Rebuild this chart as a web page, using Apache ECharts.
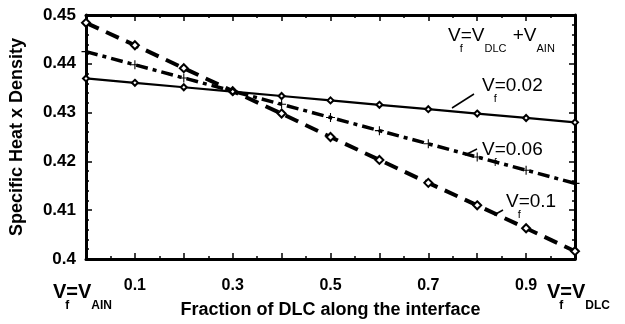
<!DOCTYPE html>
<html>
<head>
<meta charset="utf-8">
<script src="https://cdn.jsdelivr.net/npm/echarts@6/dist/echarts.min.js"></script>
<style>
  html, body { margin: 0; padding: 0; background: #fff; }
  #chart { width: 625px; height: 324px; }
</style>
</head>
<body>
<div id="chart"></div>
<script>
// fraction of DLC along the interface
const fractions = [0, 0.1, 0.2, 0.3, 0.4, 0.5, 0.6, 0.7, 0.8, 0.9, 1.0]
// specific heat x density for each Vf
const vf002 = [0.4370, 0.4361, 0.4352, 0.4343, 0.4334, 0.4325, 0.4316, 0.4307, 0.4298, 0.4289, 0.4280]
const vf006 = [0.4425, 0.4398, 0.4371, 0.4344, 0.4317, 0.4290, 0.4263, 0.4236, 0.4209, 0.4182, 0.4155]
const vf01 = [0.4484, 0.4438, 0.4391, 0.4344, 0.4298, 0.4250, 0.4203, 0.4156, 0.4110, 0.4063, 0.4016]
// tick labels shown on the x axis
const xTickLabels = ['0.1', '0.3', '0.5', '0.7', '0.9']

const FONT = 'Liberation Sans, Arial, sans-serif'

const chart = echarts.init(document.getElementById('chart'))

// measure text so the subscripts line up
const ctx = document.createElement('canvas').getContext('2d')
const measure = (t, font) => {
  ctx.font = font
  return ctx.measureText(t).width
}

// V_f style label: parts = [text, isSub, noAdvance]
const makeLabel = (x, y, parts, size, weight) => {
  const out = []
  let cx = x
  const mainFont = `${weight} ${size}px ${FONT}`
  const subFont = `${weight} ${Math.round(size * 0.6)}px ${FONT}`
  parts.forEach(([t, sub, noAdvance]) => {
    const font = sub ? subFont : mainFont
    out.push({
      type: 'text',
      z: 10,
      style: {
        text: t,
        x: sub && noAdvance ? cx - 1 : cx,
        y: sub ? y + size * 0.7 : y,
        font: font,
        fill: '#000',
        align: 'left',
        verticalAlign: 'middle'
      }
    })
    if (!noAdvance) cx += measure(t, font) + (sub ? 1 : 0)
  })
  return out
}

const leader = (x1, y1, x2, y2) => ({
  type: 'line',
  z: 10,
  shape: { x1, y1, x2, y2 },
  style: { stroke: '#000', lineWidth: 1.5 }
})

const toPairs = arr => fractions.map((f, i) => [f, arr[i]])

const plusPath = 'path://M-0.12,-1H0.12V1H-0.12Z M-1,-0.12H1V0.12H-1Z'

const xAxisBase = {
  type: 'value',
  min: 0,
  max: 1,
  interval: 0.1,
  axisLine: { show: true, onZero: false, lineStyle: { color: '#000', width: 3 } },
  axisTick: { show: true, inside: true, length: 6, lineStyle: { color: '#000', width: 1.5 } },
  minorTick: { show: true, splitNumber: 2, length: 3, lineStyle: { color: '#000', width: 1.5 } },
  splitLine: { show: false }
}

const yAxisBase = {
  type: 'value',
  min: 0.4,
  max: 0.45,
  interval: 0.01,
  axisLine: { show: true, onZero: false, lineStyle: { color: '#000', width: 3 } },
  axisTick: { show: true, inside: true, length: 6, lineStyle: { color: '#000', width: 1.5 } },
  minorTick: { show: true, splitNumber: 5, length: 3, lineStyle: { color: '#000', width: 1.5 } },
  splitLine: { show: false }
}

const option = {
  backgroundColor: '#fff',
  animation: false,
  grid: { left: 83, right: 50, top: 15, bottom: 57 },
  xAxis: [
    {
      ...xAxisBase,
      position: 'bottom',
      name: 'Fraction of DLC along the interface',
      nameLocation: 'middle',
      nameGap: 42,
      nameTextStyle: { fontFamily: FONT, fontWeight: 'bold', fontSize: 18, color: '#000' },
      axisLabel: {
        margin: 19,
        fontFamily: FONT,
        fontWeight: 'bold',
        fontSize: 16,
        color: '#000',
        formatter: v => {
          const s = (Math.round(v * 10) / 10).toString()
          return xTickLabels.includes(s) ? s : ''
        }
      }
    },
    {
      ...xAxisBase,
      position: 'top',
      axisLabel: { show: false }
    }
  ],
  yAxis: [
    {
      ...yAxisBase,
      position: 'left',
      name: 'Specific Heat x Density',
      nameLocation: 'middle',
      nameGap: 60,
      nameTextStyle: { fontFamily: FONT, fontWeight: 'bold', fontSize: 18, color: '#000' },
      axisLabel: {
        margin: 10,
        fontFamily: FONT,
        fontWeight: 'bold',
        fontSize: 17,
        color: '#000',
        formatter: v => (Math.round(v * 100) / 100).toString()
      }
    },
    {
      ...yAxisBase,
      position: 'right',
      axisLabel: { show: false }
    }
  ],
  series: [
    {
      name: 'Vf=0.02',
      type: 'line',
      data: toPairs(vf002),
      symbol: 'emptyDiamond',
      symbolSize: 6,
      itemStyle: { color: '#000', borderWidth: 1 },
      lineStyle: { color: '#000', width: 2.2, type: 'solid' },
      z: 3
    },
    {
      name: 'Vf=0.06',
      type: 'line',
      data: toPairs(vf006),
      symbol: plusPath,
      symbolSize: 9,
      itemStyle: { color: '#000' },
      lineStyle: { color: '#000', width: 3.5, type: [12, 5, 4, 5] },
      z: 2
    },
    {
      name: 'Vf=0.1',
      type: 'line',
      data: toPairs(vf01),
      symbol: 'emptyDiamond',
      symbolSize: 8,
      itemStyle: { color: '#000', borderWidth: 1.2 },
      lineStyle: { color: '#000', width: 4, type: [14, 8] },
      z: 1
    }
  ],
  graphic: [
    ...makeLabel(448, 36, [['V'], ['f', true, true], ['=V'], ['DLC', true], [' +V'], ['AIN', true]], 19, 'normal'),
    ...makeLabel(482, 86, [['V'], ['f', true, true], ['=0.02']], 19, 'normal'),
    ...makeLabel(482, 150, [['V'], ['f', true, true], ['=0.06']], 19, 'normal'),
    ...makeLabel(506, 202, [['V'], ['f', true, true], ['=0.1']], 19, 'normal'),
    ...makeLabel(53, 292, [['V'], ['f', true, true], ['=V'], ['AIN', true]], 20, 'bold'),
    ...makeLabel(547, 292, [['V'], ['f', true, true], ['=V'], ['DLC', true]], 20, 'bold'),
    leader(452, 108, 474, 94),
    leader(465, 155, 477, 149),
    leader(494, 215, 503, 210)
  ]
}

chart.setOption(option)
</script>
</body>
</html>
